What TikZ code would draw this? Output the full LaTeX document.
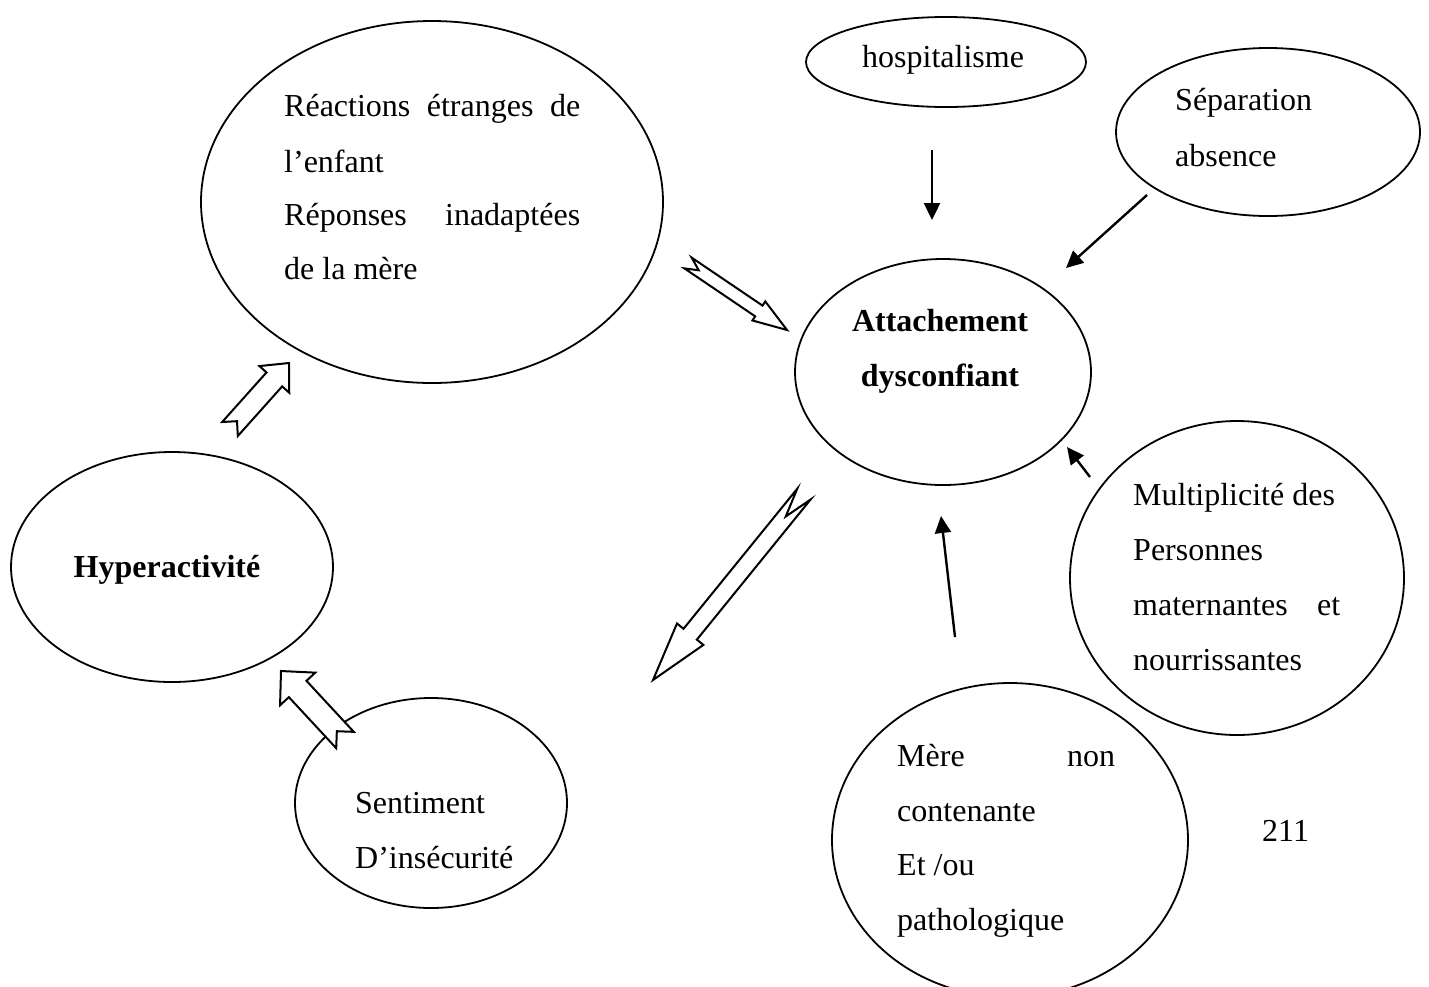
\documentclass[tikz,border=0pt]{standalone}
\usepackage{fontspec}
\setmainfont{Liberation Serif}
\usetikzlibrary{shapes.geometric,arrows.meta,calc}
% block arrow: #1 tail centre, #2 tip, #3 shaft half width, #4 head half width, #5 head length, #6 notch depth
\newcommand{\blockarr}[6]{%
  \coordinate (ba-q) at ($(#2)!#5!(#1)$);
  \draw[blk] ($(#1)!#3!90:(#2)$) -- ($(#1)!#6!(#2)$) -- ($(#1)!#3!-90:(#2)$)
    -- ($(ba-q)!#3!90:(#1)$) -- ($(ba-q)!#4!90:(#1)$) -- (#2)
    -- ($(ba-q)!#4!-90:(#1)$) -- ($(ba-q)!#3!-90:(#1)$) -- cycle;}
\begin{document}
\begin{tikzpicture}[x=1pt,y=-1pt,
  ell/.style={ellipse, draw, line width=1.8pt, inner sep=0pt, outer sep=0pt},
  txt/.style={anchor=base west, inner sep=0pt, font=\fontsize{32}{38}\selectfont},
  btxt/.style={anchor=base, inner sep=0pt, font=\fontsize{32}{38}\selectfont\bfseries},
  arr/.style={line width=2.4pt, -{Triangle[length=17pt,width=16pt]}},
  blk/.style={line width=2pt, fill=white, line join=miter}]
\useasboundingbox (0,0) rectangle (1429,986);
\clip (0,0) rectangle (1429,986);

% ellipses
\node[ell, minimum width=462pt, minimum height=362pt] (reac) at (432,202) {};
\node[ell, minimum width=280pt, minimum height=90pt] (hosp) at (946,62) {};
\node[ell, minimum width=304pt, minimum height=168pt] (sep) at (1268,132) {};
\node[ell, minimum width=296pt, minimum height=226pt] (att) at (943,372) {};
\node[ell, minimum width=322pt, minimum height=230pt] (hyp) at (172,567) {};
\node[ell, minimum width=334pt, minimum height=314pt] (mult) at (1237,578) {};
\node[ell, minimum width=272pt, minimum height=210pt] (sent) at (431,803) {};
\node[ell, minimum width=356pt, minimum height=314pt] (mere) at (1010,840) {};

% texts
\node[txt] (t-reac1) at (284,116) {\hbox to 296pt{Réactions\hfill étranges\hfill de}};
\node[txt] (t-reac2) at (284,172) {l’enfant};
\node[txt] (t-reac3) at (284,225) {\hbox to 296pt{Réponses\hfill inadaptées}};
\node[txt] (t-reac4) at (284,279) {de la mère};
\node[txt] (t-hosp) at (862,67) {hospitalisme};
\node[txt] (t-sep1) at (1175,110) {Séparation};
\node[txt] (t-sep2) at (1175,166) {absence};
\node[btxt] (t-att1) at (940,331) {Attachement};
\node[btxt] (t-att2) at (940,386) {dysconfiant};
\node[btxt] (t-hyp) at (167,577) {Hyperactivité};
\node[txt] (t-mult1) at (1133,505) {Multiplicité des};
\node[txt] (t-mult2) at (1133,560) {Personnes};
\node[txt] (t-mult3) at (1133,615) {\hbox to 207pt{maternantes\hfill et}};
\node[txt] (t-mult4) at (1133,670) {nourrissantes};
\node[txt] (t-sent1) at (355,813) {Sentiment};
\node[txt] (t-sent2) at (355,868) {D’insécurité};
\node[txt] (t-mere1) at (897,766) {\hbox to 218pt{Mère\hfill non}};
\node[txt] (t-mere2) at (897,821) {contenante};
\node[txt] (t-mere3) at (897,875) {Et /ou};
\node[txt] (t-mere4) at (897,930) {pathologique};
\node[txt] (pagenum) at (1262,841) {211};

% thin filled arrows
\coordinate (a1s) at (932,150); \coordinate (a1e) at (932,220);
\coordinate (a2s) at (1147,195); \coordinate (a2e) at (1066,268);
\coordinate (a3s) at (1090,477); \coordinate (a3e) at (1067,447);
\coordinate (a4s) at (955,637); \coordinate (a4e) at (941,516);
\draw[arr] (a1s) -- (a1e);
\draw[arr] (a2s) -- (a2e);
\draw[arr] (a3s) -- (a3e);
\draw[arr] (a4s) -- (a4e);

% block arrows
\coordinate (b1s) at (688,263); \coordinate (b1e) at (787,330);
\coordinate (b2s) at (804,494); \coordinate (b2e) at (653,680);
\coordinate (b3s) at (230,429); \coordinate (b3e) at (289,363);
\coordinate (b4s) at (345,740); \coordinate (b4e) at (281,671);
\blockarr{b1s}{b1e}{6.5pt}{11.5pt}{34pt}{13pt}
\blockarr{b2s}{b2e}{8.6pt}{17pt}{59pt}{29pt}
\blockarr{b3s}{b3e}{10.5pt}{20pt}{22pt}{10.5pt}
\blockarr{b4s}{b4e}{12pt}{24pt}{24.5pt}{12pt}
\end{tikzpicture}
\end{document}
